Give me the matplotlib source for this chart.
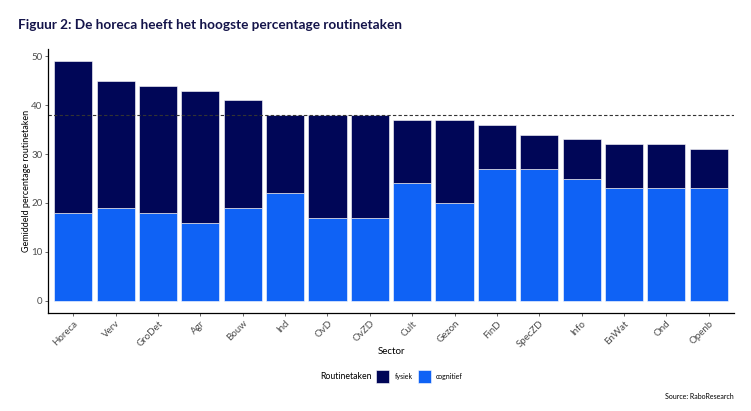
import numpy as np
import matplotlib.pyplot as plt

plt.rcParams['font.family'] = ['Lato', 'DejaVu Sans']

sectoren = ["Horeca", "Verv", "GroDet", "Agr", "Bouw", "Ind", "OvD", "OvZD",
            "Cult", "Gezon", "FinD", "SpecZD", "Info", "EnWat", "Ond", "Openb"]
totaal = [49, 45, 44, 43, 41, 38, 38, 38, 37, 37, 36, 34, 33, 32, 32, 31]
cognitief = [18, 19, 18, 16, 19, 22, 17, 17, 24, 20, 27, 27, 25, 23, 23, 23]
fysiek = [t - c for t, c in zip(totaal, cognitief)]
gemiddelde = 38

kleur_fysiek = "#000657"
kleur_cognitief = "#0F62F5"
grijs = "#4d4d4d"

fig = plt.figure(figsize=(7.51, 4.11), dpi=100)
ax = fig.add_axes([0.0639, 0.2392, 0.9135, 0.6408])

x = np.arange(len(sectoren))
ax.bar(x, cognitief, width=0.9, color=kleur_cognitief, edgecolor="white", linewidth=0.4)
ax.bar(x, fysiek, width=0.9, bottom=cognitief, color=kleur_fysiek, edgecolor="white", linewidth=0.4)
ax.axhline(gemiddelde, color="#333333", linestyle=(0, (3, 2)), linewidth=0.8)

ax.set_xlim(-0.6, len(sectoren) - 0.4)
ax.set_ylim(-max(totaal) * 0.05, max(totaal) * 1.05)
ax.set_yticks([0, 10, 20, 30, 40, 50])
ax.set_xticks(x)
ax.set_xticklabels(sectoren, rotation=45, ha="right", rotation_mode="anchor")
ax.tick_params(axis="both", colors=grijs, length=2.5, width=0.6)
ax.tick_params(axis="x", labelsize=7, pad=2)
ax.tick_params(axis="y", labelsize=7, pad=1.5)

for kant in ["top", "right"]:
    ax.spines[kant].set_visible(False)
for kant in ["left", "bottom"]:
    ax.spines[kant].set_linewidth(0.9)
    ax.spines[kant].set_color("black")

ax.set_ylabel("Gemiddeld percentage routinetaken", fontsize=6.5, va="center")
ax.yaxis.set_label_coords(-0.032, 0.5)
ax.set_xlabel("Sector", fontsize=7, va="center")
ax.xaxis.set_label_coords(0.5, -0.149)

fig.text(0.024, 0.94, "Figuur 2: De horeca heeft het hoogste percentage routinetaken",
         fontsize=9.8, fontweight="bold", color="#14144a", va="center")

# legenda
fig.text(0.426, 0.083, "Routinetaken", fontsize=6.3, va="center")
fig.patches.append(plt.Rectangle((0.501, 0.068), 0.0175, 0.031, transform=fig.transFigure,
                                 facecolor=kleur_fysiek, edgecolor="white", linewidth=0.4))
fig.text(0.526, 0.083, "fysiek", fontsize=5, va="center")
fig.patches.append(plt.Rectangle((0.557, 0.068), 0.0175, 0.031, transform=fig.transFigure,
                                 facecolor=kleur_cognitief, edgecolor="white", linewidth=0.4))
fig.text(0.58, 0.083, "cognitief", fontsize=5, va="center")

fig.text(0.977, 0.036, "Source: RaboResearch", fontsize=5, ha="right", va="center")

fig.savefig("out.png", dpi=100)
